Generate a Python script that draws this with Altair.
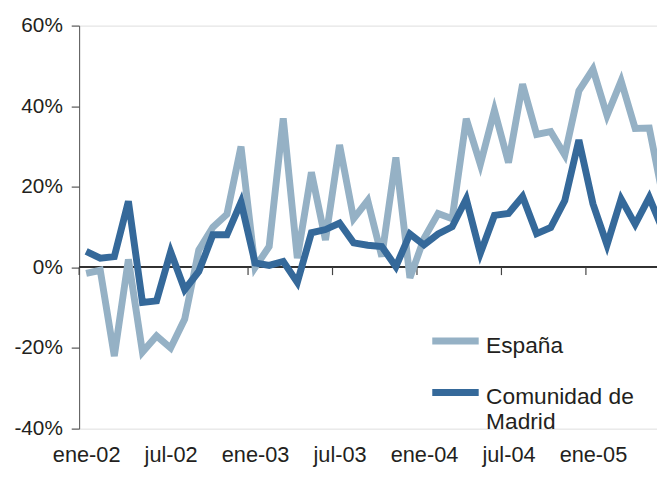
import altair as alt
import pandas as pd

months = [
    "ene-02", "feb-02", "mar-02", "abr-02", "may-02", "jun-02",
    "jul-02", "ago-02", "sep-02", "oct-02", "nov-02", "dic-02",
    "ene-03", "feb-03", "mar-03", "abr-03", "may-03", "jun-03",
    "jul-03", "ago-03", "sep-03", "oct-03", "nov-03", "dic-03",
    "ene-04", "feb-04", "mar-04", "abr-04", "may-04", "jun-04",
    "jul-04", "ago-04", "sep-04", "oct-04", "nov-04", "dic-04",
    "ene-05", "feb-05", "mar-05", "abr-05", "may-05", "jun-05",
]

espana = [
    -1.5, -0.7, -22.0, 2.0, -21.0, -17.0,
    -20.0, -12.8, 4.3, 10.0, 13.2, 30.0,
    0.0, 5.2, 37.0, 2.3, 23.6, 6.8,
    30.4, 12.1, 16.6, 2.7, 27.3, -2.6,
    7.2, 13.4, 12.1, 36.9, 25.6, 39.0,
    26.0, 45.5, 33.0, 33.7, 27.9, 43.8,
    49.2, 37.7, 46.3, 34.5, 34.6, 17.0,
]

madrid = [
    4.0, 2.3, 2.7, 16.4, -8.7, -8.3,
    3.9, -5.5, -1.0, 8.1, 8.1, 16.2,
    1.1, 0.5, 1.5, -3.7, 8.6, 9.4,
    11.0, 6.1, 5.5, 5.2, 0.2, 8.3,
    5.6, 8.3, 10.1, 17.0, 3.5, 12.9,
    13.4, 17.6, 8.4, 9.9, 16.6, 31.6,
    15.8, 5.6, 17.0, 10.7, 17.4, 9.0,
]

series_names = ["España", "Comunidad de Madrid"]
series_colors = ["#95b1c5", "#35699a"]
label_positions = [0, 6, 12, 18, 24, 30, 36]
y_ticks = [-40, -20, 0, 20, 40, 60]

n = len(months)
df = pd.DataFrame({
    "i": list(range(n)) * 2,
    "mes": months * 2,
    "valor": espana + madrid,
    "serie": [series_names[0]] * n + [series_names[1]] * n,
})
boundaries = pd.DataFrame({"b": [p - 0.5 for p in label_positions]})

FONT = "Liberation Sans"
TXT = "#231f20"
label_js = "[" + ",".join("'" + m + "'" for m in months) + "]"

x_scale = alt.Scale(domain=[-0.5, 40.55], nice=False, zero=False)
y_scale = alt.Scale(domain=[-40, 60], nice=False, zero=False)
color_scale = alt.Scale(domain=series_names, range=series_colors)

x_enc = alt.X(
    "i:Q", scale=x_scale, title=None,
    axis=alt.Axis(
        values=label_positions, labelExpr=label_js + "[datum.value]",
        grid=False, domain=False, ticks=False, tickSize=0,
        labelPadding=16, labelFontSize=22, labelFont=FONT, labelColor=TXT,
        labelAngle=0,
    ),
)
y_enc = alt.Y(
    "valor:Q", scale=y_scale, title=None,
    axis=alt.Axis(
        values=y_ticks, labelExpr="datum.value + '%'",
        grid=False, domain=True, domainColor="#555555", domainWidth=1,
        ticks=True, tickSize=8, tickColor="#777777", tickWidth=1.5,
        labelPadding=9, labelFontSize=21, labelFont=FONT, labelColor=TXT,
    ),
)

legend = alt.Legend(
    orient="none", legendX=354, legendY=286, title=None,
    symbolType="M-1,0.27L1,0.27", symbolSize=2209, symbolStrokeWidth=7,
    labelFontSize=23, labelFont=FONT, labelColor=TXT,
    labelBaseline="top", labelOffset=4, labelLimit=300,
    rowPadding=2, padding=0,
    labelExpr="datum.label == 'Comunidad de Madrid' ? ['Comunidad de', 'Madrid'] : datum.label",
)

zero_line = alt.Chart(df).mark_rule(color="#333333", strokeWidth=1.2).encode(
    y=alt.datum(0, scale=y_scale)
)

x_ticks = alt.Chart(boundaries).mark_rule(color="#444444", strokeWidth=1.2).encode(
    x=alt.X("b:Q", scale=x_scale),
    y=alt.datum(0),
    y2=alt.datum(-1.9),
)

line_es = alt.Chart(df).transform_filter(
    alt.datum.serie == series_names[0]
).mark_line(strokeWidth=7, clip=True).encode(
    x=x_enc, y=y_enc,
    color=alt.Color("serie:N", scale=color_scale, legend=legend),
)

line_md = alt.Chart(df).transform_filter(
    alt.datum.serie == series_names[1]
).mark_line(strokeWidth=7, clip=True).encode(
    x=x_enc, y=y_enc,
    color=alt.Color("serie:N", scale=color_scale, legend=legend),
)

chart = alt.layer(zero_line, x_ticks, line_es, line_md).properties(
    width=585, height=408,
    autosize=alt.AutoSizeParams(type="none"),
    padding={"left": 72, "top": 15, "right": 0, "bottom": 38},
).configure_view(stroke=None).configure(background="white")

chart.save("out.html", embed_options={"renderer": "svg", "actions": False})
